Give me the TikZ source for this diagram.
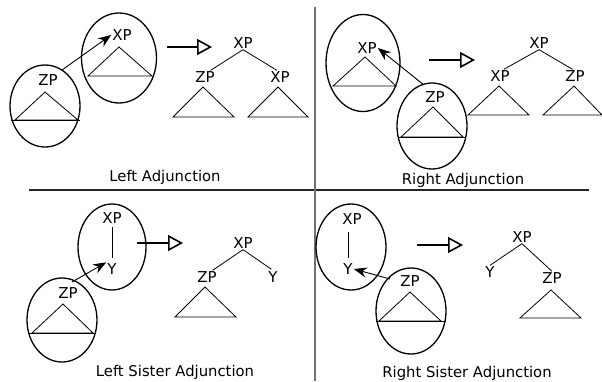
\documentclass[tikz,border=0pt]{standalone}
\usepackage{fontspec}
\setmainfont{DejaVu Sans}
\usetikzlibrary{arrows.meta,shapes.geometric}
\begin{document}
\begin{tikzpicture}[x=1pt,y=-1pt,
  lab/.style={inner sep=1pt,font=\fontsize{15}{17}\selectfont},
  ttl/.style={inner sep=1pt,font=\fontsize{14.8}{17}\selectfont},
  oval/.style={draw,ellipse,line width=1.3pt,inner sep=0pt},
  tri/.style={line width=0.8pt,line join=miter},
  brn/.style={line width=0.8pt},
  move/.style={line width=0.9pt,-{Stealth[length=13,width=10]}},
  yields/.style={line width=1.8pt,-{Triangle[open,length=15,width=16,line width=1.6pt]}},
  hframe/.style={line width=1.2pt,draw=black!85},
  vframe/.style={line width=1.2pt,draw=black!55}]
\useasboundingbox (0,0) rectangle (602,381);
% frame lines
\coordinate (hl) at (29,190); \coordinate (hr) at (589,190);
\coordinate (vt) at (315,7); \coordinate (vb) at (315,381);
\draw[hframe] (hl) -- (hr);
\draw[vframe] (vt) -- (vb);

% ---------- Top left: Left Adjunction ----------
\node[oval,minimum width=70,minimum height=82] (e1) at (45,106) {};
\node[lab] (zp1) at (48,80) {ZP};
\draw[tri] (45,92) -- (15,120) -- (78,120) -- cycle;
\draw[tri] (11,120) -- (80,120);
\node[oval,minimum width=75,minimum height=90] (e2) at (119,58) {};
\node[lab] (xp1) at (122,35) {XP};
\draw[tri] (119,47) -- (88,76) -- (152,76) -- cycle;
\coordinate (a1s) at (62,70);
\draw[move] (a1s) -- (xp1.west);
\coordinate (y1s) at (167,47); \coordinate (y1e) at (212,47);
\draw[yields] (y1s) -- (y1e);
\node[lab] (t1) at (243,43) {XP};
\node[lab] (t1l) at (205,77) {ZP};
\node[lab] (t1r) at (280,77) {XP};
\draw[brn] (t1.south) -- (t1l.50);
\draw[brn] (t1.south) -- (t1r.115);
\draw[tri] (203,87) -- (173,117) -- (234,117) -- cycle;
\draw[tri] (278,87) -- (248,117) -- (308,117) -- cycle;
\node[ttl] (c1) at (165,177) {Left Adjunction};

% ---------- Top right: Right Adjunction ----------
\node[oval,minimum width=74,minimum height=97] (e3) at (363,63) {};
\node[lab] (xp2) at (367,48) {XP};
\draw[tri] (365,57) -- (333,86) -- (396,86) -- cycle;
\node[oval,minimum width=70,minimum height=86] (e4) at (432,126) {};
\node[lab] (zp2) at (435,97) {ZP};
\draw[tri] (433,107) -- (401,137) -- (463,137) -- cycle;
\draw[tri] (398,137) -- (466,137);
\coordinate (a2s) at (424,85);
\draw[move] (a2s) -- (xp2.east);
\coordinate (y2s) at (429,60); \coordinate (y2e) at (475,60);
\draw[yields] (y2s) -- (y2e);
\node[lab] (t2) at (539,43) {XP};
\node[lab] (t2l) at (500,76) {XP};
\node[lab] (t2r) at (575,76) {ZP};
\draw[brn] (t2.south) -- (t2l.60);
\draw[brn] (t2.south) -- (t2r.110);
\draw[tri] (499,86) -- (468,115) -- (529,115) -- cycle;
\draw[tri] (574,86) -- (543,115) -- (602,115) -- cycle;
\node[ttl] (c2) at (463,180) {Right Adjunction};

% ---------- Bottom left: Left Sister Adjunction ----------
\node[oval,minimum width=68,minimum height=86] (e5) at (112,247) {};
\node[lab] (xp3) at (112,218) {XP};
\node[lab] (y3) at (112,269) {Y};
\draw[brn,shorten <=2pt,shorten >=4pt] (xp3.south) -- (y3.north);
\node[oval,minimum width=70,minimum height=84] (e6) at (62,320) {};
\node[lab] (zp3) at (68,293) {ZP};
\draw[tri] (63,304) -- (32,333) -- (93,333) -- cycle;
\draw[tri] (28,333) -- (96,333);
\coordinate (a3s) at (72,282);
\draw[move] (a3s) -- (y3.north west);
\coordinate (y3s) at (137,243); \coordinate (y3e) at (183,243);
\draw[yields] (y3s) -- (y3e);
\node[lab] (t3) at (243,243) {XP};
\node[lab] (t3l) at (207,277) {ZP};
\node[lab] (t3r) at (273,277) {Y};
\draw[brn] (t3.south) -- (t3l.50);
\draw[brn,shorten >=2pt] (t3.south) -- (t3r.north);
\draw[tri] (205,287) -- (175,317) -- (236,317) -- cycle;
\node[ttl] (c3) at (175,372) {Left Sister Adjunction};

% ---------- Bottom right: Right Sister Adjunction ----------
\node[oval,minimum width=70,minimum height=86] (e7) at (351,247) {};
\node[lab] (xp4) at (352,219) {XP};
\node[lab] (y4) at (348,269) {Y};
\coordinate (v4) at (348,232);
\draw[brn,shorten >=4pt] (v4) -- (y4.north);
\node[oval,minimum width=70,minimum height=86] (e8) at (411,311) {};
\node[lab] (zp4) at (410,281) {ZP};
\draw[tri] (410,292) -- (379,321) -- (441,321) -- cycle;
\draw[tri] (376,321) -- (446,321);
\coordinate (a4s) at (390,279);
\draw[move] (a4s) -- (y4.east);
\coordinate (y4s) at (417,245); \coordinate (y4e) at (463,245);
\draw[yields] (y4s) -- (y4e);
\node[lab] (t4) at (522,237) {XP};
\node[lab] (t4l) at (490,272) {Y};
\node[lab] (t4r) at (552,278) {ZP};
\draw[brn] (t4.south) -- (t4l.north);
\draw[brn] (t4.south) -- (t4r.north);
\draw[tri] (551,290) -- (520,318) -- (581,318) -- cycle;
\node[ttl] (c4) at (467,373) {Right Sister Adjunction};
\end{tikzpicture}
\end{document}
